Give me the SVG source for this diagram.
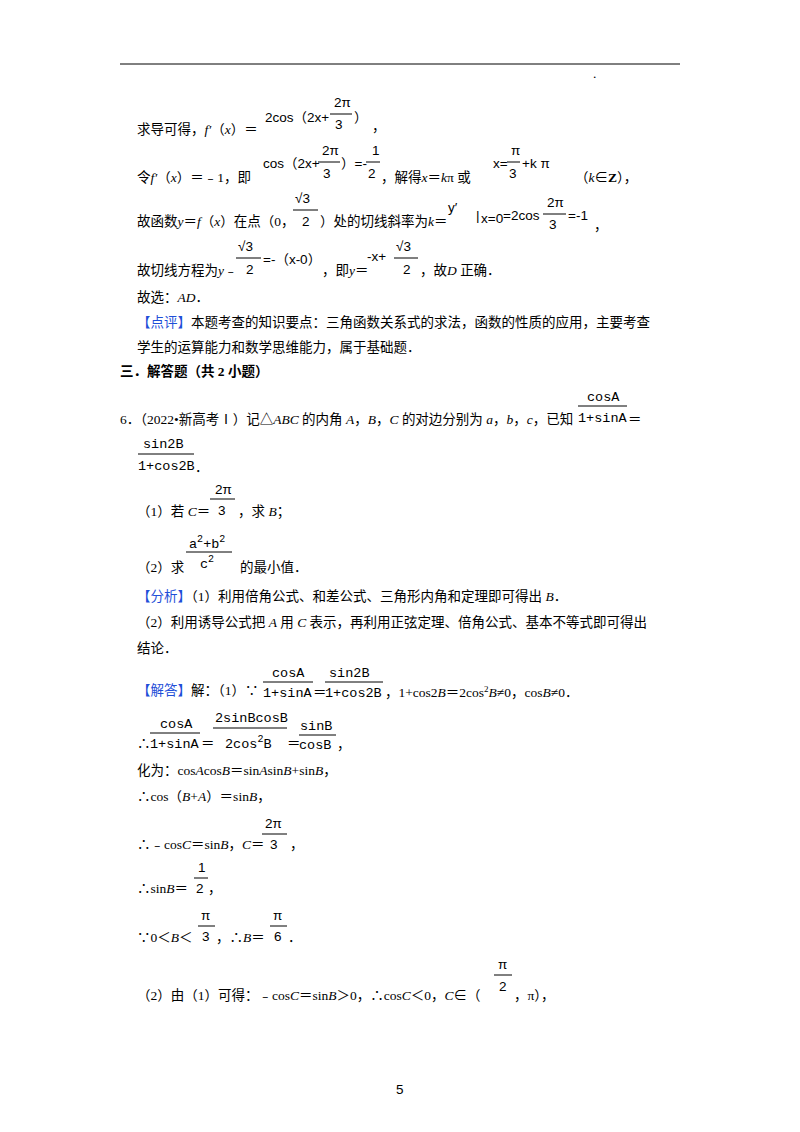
<svg xmlns="http://www.w3.org/2000/svg" width="800" height="1132" viewBox="0 0 800 1132">
<style>
text{font-family:"Liberation Serif","Noto Sans CJK SC",serif;font-size:13.5px;fill:#000}
.m{font-family:"Liberation Sans","Noto Sans CJK SC",sans-serif;font-size:13.5px}
.mo{font-family:"Liberation Mono","Noto Sans CJK SC",monospace;font-size:13.5px}
.i{font-style:italic}
.b{font-weight:bold}
.blue{fill:#1f4fd8}
line{stroke:#000;stroke-width:1}
</style>
<rect width="800" height="1132" fill="#fff"/>
<line x1="120" y1="64" x2="680" y2="64"/>
<text x="593" y="78" font-size="6">.</text>

<!-- line 1 -->
<text x="137" y="134">求导可得，<tspan class="i">f′</tspan>（<tspan class="i">x</tspan>）＝</text>
<text class="m" x="265" y="122">2cos（2x+</text>
<text class="m" x="334" y="107">2π</text><line x1="330" y1="114" x2="352" y2="114"/><text class="m" x="335" y="129">3</text>
<text class="m" x="354" y="122">）</text><text x="372" y="131">，</text>

<!-- line 2 -->
<text x="137" y="182">令<tspan class="i">f′</tspan>（<tspan class="i">x</tspan>）＝﹣1，即</text>
<text class="m" x="263" y="168">cos（2x+</text>
<text class="m" x="322" y="155">2π</text><line x1="318" y1="162" x2="340" y2="162"/><text class="m" x="323" y="178">3</text>
<text class="m" x="341" y="168">）=-</text>
<text class="m" x="372" y="155">1</text><line x1="366" y1="162" x2="380" y2="162"/><text class="m" x="368" y="178">2</text>
<text x="381" y="182">，解得<tspan class="i">x</tspan>＝<tspan class="i">k</tspan>π 或</text>
<text class="m" x="493" y="168">x=</text>
<text class="m" x="511" y="155">π</text><line x1="507" y1="162" x2="520" y2="162"/><text class="m" x="509" y="178">3</text>
<text class="m" x="522" y="168">+k π</text>
<text x="575" y="182">（<tspan class="i">k</tspan>∈<tspan class="b">Z</tspan>），</text>

<!-- line 3 -->
<text x="137" y="226">故函数<tspan class="i">y</tspan>＝<tspan class="i">f</tspan>（<tspan class="i">x</tspan>）在点（0，</text>
<text class="m" x="295" y="203">√3</text><line x1="293" y1="210" x2="318" y2="210"/><text class="m" x="302" y="226">2</text>
<text x="320" y="226">）处的切线斜率为<tspan class="i">k</tspan>＝</text>
<text class="m" x="448" y="212">y′</text>
<text class="m" x="476" y="220">|</text><text class="m" x="481" y="223" font-size="9">x=0</text>
<text class="m" x="503" y="220">=2cos</text>
<text class="m" x="547" y="207">2π</text><line x1="543" y1="214" x2="566" y2="214"/><text class="m" x="549" y="229">3</text>
<text class="m" x="568" y="220">=-1</text><text x="594" y="230">，</text>

<!-- line 4 -->
<text x="137" y="275">故切线方程为<tspan class="i">y</tspan>﹣</text>
<text class="m" x="238" y="251">√3</text><line x1="236" y1="258" x2="261" y2="258"/><text class="m" x="246" y="274">2</text>
<text class="m" x="263" y="264">=-（x-0）</text>
<text x="322" y="275">，即<tspan class="i">y</tspan>＝</text>
<text class="m" x="367" y="261">-x+</text>
<text class="m" x="396" y="251">√3</text><line x1="394" y1="258" x2="418" y2="258"/><text class="m" x="403" y="274">2</text>
<text x="420" y="275">，故<tspan class="i">D</tspan> 正确．</text>

<text x="137" y="302">故选：<tspan class="i">AD</tspan>．</text>
<text x="137" y="327"><tspan class="blue">【点评】</tspan>本题考查的知识要点：三角函数关系式的求法，函数的性质的应用，主要考查</text>
<text x="137" y="352">学生的运算能力和数学思维能力，属于基础题．</text>
<text x="120" y="376" class="b">三．解答题（共 2 小题）</text>

<!-- Q6 -->
<text x="120" y="424">6．（2022•新高考Ⅰ）记△<tspan class="i">ABC</tspan> 的内角 <tspan class="i">A</tspan>，<tspan class="i">B</tspan>，<tspan class="i">C</tspan> 的对边分别为 <tspan class="i">a</tspan>，<tspan class="i">b</tspan>，<tspan class="i">c</tspan>，已知</text>
<text class="mo" x="587" y="401">cosA</text><line x1="578" y1="406" x2="627" y2="406"/><text class="mo" x="578" y="422">1+sinA</text>
<text x="628" y="424">＝</text>
<text class="mo" x="143" y="448">sin2B</text><line x1="138" y1="454" x2="194" y2="454"/><text class="mo" x="138" y="470">1+cos2B</text><text x="195" y="472">．</text>

<text x="137" y="516">（1）若 <tspan class="i">C</tspan>＝</text>
<text class="m" x="215" y="494">2π</text><line x1="210" y1="499" x2="235" y2="499"/><text class="m" x="218" y="515">3</text>
<text x="238" y="516">，求 <tspan class="i">B</tspan>；</text>

<text class="mo" x="189" y="548">a<tspan dy="-6" font-size="10">2</tspan><tspan dy="6">+b</tspan><tspan dy="-6" font-size="10">2</tspan></text>
<line x1="186" y1="552" x2="232" y2="552"/>
<text class="mo" x="200" y="568">c<tspan dy="-6" font-size="10">2</tspan></text>
<text x="137" y="572">（2）求</text><text x="240" y="572">的最小值．</text>

<text x="137" y="601"><tspan class="blue">【分析】</tspan>（1）利用倍角公式、和差公式、三角形内角和定理即可得出 <tspan class="i">B</tspan>．</text>
<text x="137" y="627">（2）利用诱导公式把 <tspan class="i">A</tspan> 用 <tspan class="i">C</tspan> 表示，再利用正弦定理、倍角公式、基本不等式即可得出</text>
<text x="137" y="653">结论．</text>

<text x="137" y="695"><tspan class="blue">【解答】</tspan>解：（1）∵</text>
<text class="mo" x="272" y="677">cosA</text><line x1="263" y1="682" x2="313" y2="682"/><text class="mo" x="263" y="697">1+sinA</text>
<text x="313" y="697">＝</text>
<text class="mo" x="329" y="677">sin2B</text><line x1="325" y1="682" x2="383" y2="682"/><text class="mo" x="325" y="697">1+cos2B</text>
<text x="385" y="697">，1+cos2<tspan class="i">B</tspan>＝2cos<tspan dy="-5" font-size="9">2</tspan><tspan dy="5" class="i">B</tspan>≠0，cos<tspan class="i">B</tspan>≠0．</text>

<text x="137" y="748">∴</text>
<text class="mo" x="160" y="728">cosA</text><line x1="150" y1="733" x2="200" y2="733"/><text class="mo" x="150" y="748">1+sinA</text>
<text x="201" y="748">＝</text>
<text class="mo" x="215" y="722">2sinBcosB</text><line x1="213" y1="728" x2="287" y2="728"/><text class="mo" x="225" y="748">2cos<tspan dy="-6" font-size="10">2</tspan><tspan dy="6">B</tspan></text>
<text x="287" y="748">＝</text>
<text class="mo" x="300" y="730">sinB</text><line x1="299" y1="735" x2="336" y2="735"/><text class="mo" x="299" y="749">cosB</text>
<text x="337" y="749">，</text>

<text x="137" y="775">化为：cos<tspan class="i">A</tspan>cos<tspan class="i">B</tspan>＝sin<tspan class="i">A</tspan>sin<tspan class="i">B</tspan>+sin<tspan class="i">B</tspan>，</text>
<text x="137" y="801">∴cos（<tspan class="i">B</tspan>+<tspan class="i">A</tspan>）＝sin<tspan class="i">B</tspan>，</text>

<text x="137" y="849">∴﹣cos<tspan class="i">C</tspan>＝sin<tspan class="i">B</tspan>，<tspan class="i">C</tspan>＝</text>
<text class="m" x="265" y="828">2π</text><line x1="262" y1="834" x2="287" y2="834"/><text class="m" x="270" y="849">3</text>
<text x="290" y="849">，</text>

<text x="137" y="893">∴sin<tspan class="i">B</tspan>＝</text>
<text class="m" x="198" y="872">1</text><line x1="194" y1="878" x2="208" y2="878"/><text class="m" x="196" y="893">2</text>
<text x="208" y="893">，</text>

<text x="137" y="942">∵0＜<tspan class="i">B</tspan>＜</text>
<text class="m" x="201" y="920">π</text><line x1="198" y1="926" x2="215" y2="926"/><text class="m" x="202" y="941">3</text>
<text x="216" y="942">，∴<tspan class="i">B</tspan>＝</text>
<text class="m" x="273" y="920">π</text><line x1="270" y1="926" x2="287" y2="926"/><text class="m" x="274" y="941">6</text>
<text x="288" y="942">．</text>

<text x="137" y="1000">（2）由（1）可得：﹣cos<tspan class="i">C</tspan>＝sin<tspan class="i">B</tspan>＞0，∴cos<tspan class="i">C</tspan>＜0，<tspan class="i">C</tspan>∈（</text>
<text class="m" x="498" y="969">π</text><line x1="494" y1="975" x2="512" y2="975"/><text class="m" x="499" y="991">2</text>
<text x="514" y="1000">，π），</text>

<text x="396" y="1094" class="m" font-size="11">5</text>
</svg>
